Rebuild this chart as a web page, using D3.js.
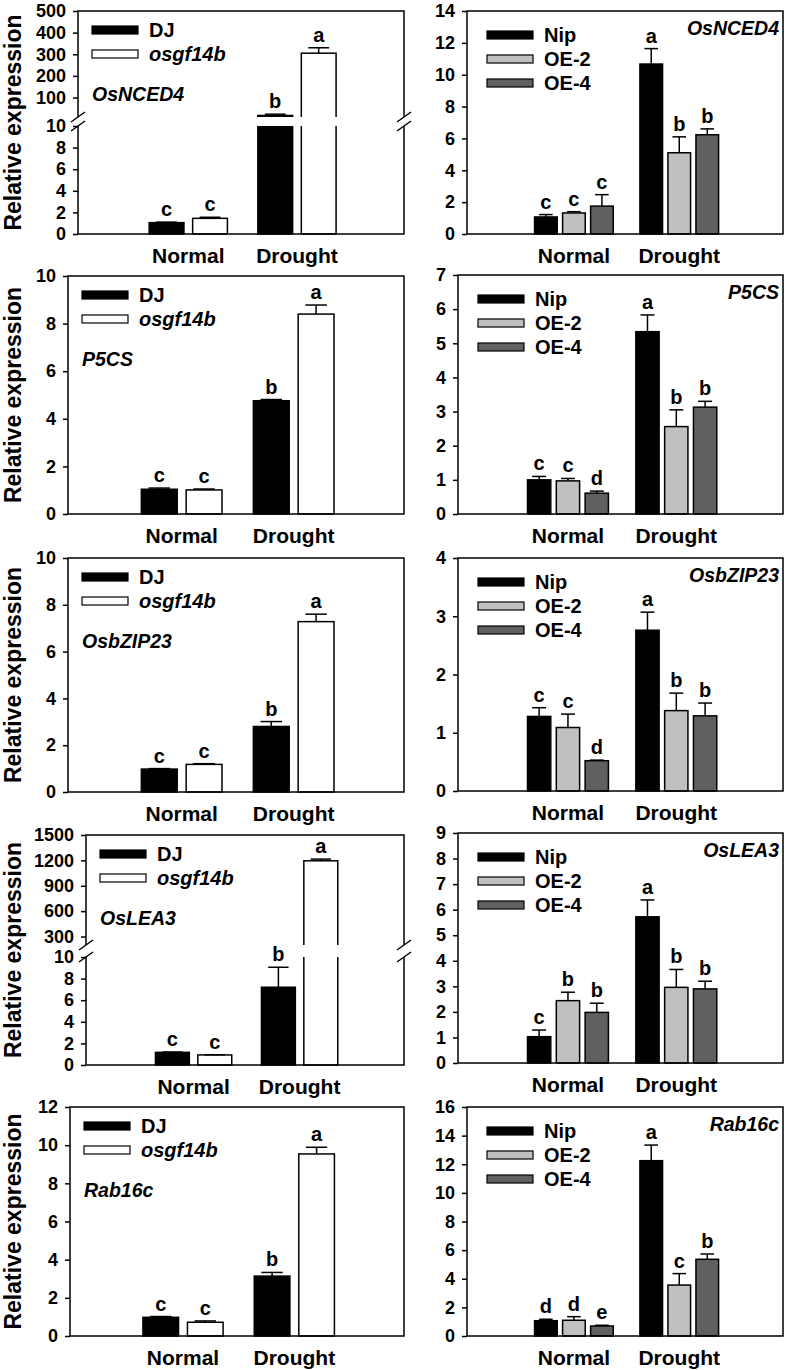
<!DOCTYPE html>
<html>
<head>
<meta charset="utf-8">
<script src="https://cdn.jsdelivr.net/npm/d3@7"></script>
<style>
  body { margin: 0; background: #fff; }
  svg text { font-family: "Liberation Sans", Arial, sans-serif; font-weight: bold; }
</style>
</head>
<body>
<svg id="fig" width="787" height="1370"></svg>
<script>
var conditions = ["Normal", "Drought"];
var genes = ["OsNCED4", "P5CS", "OsbZIP23", "OsLEA3", "Rab16c"];
var mutLines = ["DJ", "osgf14b"];
var oeLines = ["Nip", "OE-2", "OE-4"];

// left column, one row per gene, [Normal, Drought]
var djMean  = [[1.05, 17], [1.04, 4.76], [0.98, 2.8], [1.17, 7.2], [0.98, 3.14]];
var djSd    = [[0.05, 6], [0.05, 0.05], [0.02, 0.21], [0.03, 1.85], [0.04, 0.19]];
var djSig   = [["c", "b"], ["c", "b"], ["c", "b"], ["c", "b"], ["c", "b"]];
var osgMean = [[1.45, 305], [1.01, 8.4], [1.18, 7.28], [0.93, 1195], [0.72, 9.54]];
var osgSd   = [[0.1, 25], [0.04, 0.38], [0.03, 0.32], [0.02, 20], [0.07, 0.35]];
var osgSig  = [["c", "a"], ["c", "a"], ["c", "a"], ["c", "a"], ["c", "a"]];

// right column
var nipMean = [[1.07, 10.67], [1.0, 5.34], [1.28, 2.76], [1.03, 5.72], [1.07, 12.25]];
var nipSd   = [[0.15, 0.97], [0.1, 0.49], [0.15, 0.31], [0.26, 0.66], [0.1, 1.09]];
var nipSig  = [["c", "a"], ["c", "a"], ["c", "a"], ["c", "a"], ["d", "a"]];
var oe2Mean = [[1.32, 5.1], [0.97, 2.56], [1.09, 1.38], [2.44, 2.96], [1.1, 3.56]];
var oe2Sd   = [[0.08, 1.0], [0.07, 0.49], [0.23, 0.3], [0.33, 0.7], [0.25, 0.8]];
var oe2Sig  = [["c", "b"], ["c", "b"], ["c", "b"], ["b", "b"], ["d", "c"]];
var oe4Mean = [[1.75, 6.23], [0.61, 3.13], [0.52, 1.29], [1.98, 2.9], [0.7, 5.36]];
var oe4Sd   = [[0.72, 0.37], [0.06, 0.17], [0.01, 0.22], [0.36, 0.3], [0.05, 0.37]];
var oe4Sig  = [["c", "b"], ["d", "b"], ["d", "b"], ["b", "b"], ["e", "b"]];

// y axes (left ones OsNCED4 and OsLEA3 have a broken axis)
var leftLowMax    = [10, 10, 10, 10, 12];
var leftHigh      = [[10, 500], null, null, [200, 1500], null];
var leftLowTicks  = [[0, 2, 4, 6, 8, 10], [0, 2, 4, 6, 8, 10], [0, 2, 4, 6, 8, 10], [0, 2, 4, 6, 8, 10], [0, 2, 4, 6, 8, 10, 12]];
var leftHighTicks = [[100, 200, 300, 400, 500], [], [], [300, 600, 900, 1200, 1500], []];
var rightMax      = [14, 7, 4, 9, 16];
var rightTicks    = [[0, 2, 4, 6, 8, 10, 12, 14], [0, 1, 2, 3, 4, 5, 6, 7], [0, 1, 2, 3, 4],
                     [0, 1, 2, 3, 4, 5, 6, 7, 8, 9], [0, 2, 4, 6, 8, 10, 12, 14, 16]];

// panel frames
var leftX0 = [78, 68, 68, 86, 70], leftX1 = 404;
var leftTop = [11, 276, 558, 835, 1107], leftBottom = [234, 514, 792, 1065, 1336];
var leftGap = [[117, 126], null, null, [945, 957], null];
var rightX0 = [467, 458, 458, 458, 467], rightX1 = 783;
var rightTop = [11, 275, 558, 833, 1107], rightBottom = [234, 514, 791, 1063, 1336];

var svg = d3.select("#fig");

function drawPanel(p) {
    var g = svg.append("g");
    var x = d3.scaleLinear().domain([-0.015, 2.985]).range([p.x0, p.x1]);
    var low = d3.scaleLinear().domain([0, p.lowMax]).range([p.bottom, p.high ? p.gap[1] : p.top]);
    var high = p.high ? d3.scaleLinear().domain(p.high).range([p.gap[0], p.top]) : null;
    var y = function (v) { return (high && v > p.lowMax) ? high(v) : low(v); };

    var n = p.series.length;
    var unit = x(1) - x(0);
    var bw = p.barW * unit, step = p.step * unit;
    var letters = [];

    p.series.forEach(function (s, si) {
        conditions.forEach(function (c, ci) {
            var cx = x(ci + 1) + (si - (n - 1) / 2) * step;
            var v = s.mean[ci];
            var top = y(v), errTop = y(v + s.sd[ci]);
            g.append("rect")
                .attr("x", cx - bw / 2).attr("y", top)
                .attr("width", bw).attr("height", p.bottom - top)
                .attr("fill", s.fill).attr("stroke", "#000").attr("stroke-width", 1.5);
            g.append("line")
                .attr("x1", cx).attr("x2", cx).attr("y1", top).attr("y2", errTop)
                .attr("stroke", "#000").attr("stroke-width", 1.5);
            g.append("line")
                .attr("x1", cx - bw * 0.3).attr("x2", cx + bw * 0.3).attr("y1", errTop).attr("y2", errTop)
                .attr("stroke", "#000").attr("stroke-width", 1.5);
            letters.push({ x: cx, y: errTop - 6, t: s.sig[ci] });
        });
    });

    g.append("rect")
        .attr("x", p.x0).attr("y", p.top)
        .attr("width", p.x1 - p.x0).attr("height", p.bottom - p.top)
        .attr("fill", "none").attr("stroke", "#000").attr("stroke-width", 1.5);

    if (p.high) {
        g.append("rect")
            .attr("x", p.x0 - 2).attr("y", p.gap[0])
            .attr("width", p.x1 - p.x0 + 4).attr("height", p.gap[1] - p.gap[0])
            .attr("fill", "#fff");
        [p.x0, p.x1].forEach(function (bx) {
            p.gap.forEach(function (gy) {
                g.append("line")
                    .attr("x1", bx - 7).attr("y1", gy + 5).attr("x2", bx + 7).attr("y2", gy - 5)
                    .attr("stroke", "#000").attr("stroke-width", 1.5);
            });
        });
    }

    g.selectAll("text.sig").data(letters).join("text")
        .attr("class", "sig")
        .attr("x", function (d) { return d.x; }).attr("y", function (d) { return d.y; })
        .attr("text-anchor", "middle").attr("font-size", 20)
        .text(function (d) { return d.t; });

    var styleAxis = function (a) {
        a.select(".domain").remove();
        a.selectAll(".tick line").attr("stroke-width", 1.5);
        a.selectAll(".tick text").attr("font-size", 18).attr("fill", "#000")
            .style("font-family", "'Liberation Sans', Arial, sans-serif").style("font-weight", "bold");
    };
    g.append("g").attr("transform", "translate(" + p.x0 + ",0)")
        .call(d3.axisLeft(low).tickValues(p.lowTicks).tickSize(5).tickPadding(7).tickFormat(d3.format("d")))
        .call(styleAxis);
    if (high) {
        g.append("g").attr("transform", "translate(" + p.x0 + ",0)")
            .call(d3.axisLeft(high).tickValues(p.highTicks).tickSize(5).tickPadding(7).tickFormat(d3.format("d")))
            .call(styleAxis);
    }

    conditions.forEach(function (c, ci) {
        g.append("text")
            .attr("x", x(ci + 1)).attr("y", p.bottom + 29)
            .attr("text-anchor", "middle").attr("font-size", 21)
            .text(c);
    });

    // legend
    p.series.forEach(function (s, si) {
        var ly = p.top + p.legendY + si * p.legendStep;
        g.append("rect")
            .attr("x", p.x0 + p.legendX).attr("y", ly - 4)
            .attr("width", 46).attr("height", 8)
            .attr("fill", s.fill).attr("stroke", "#000").attr("stroke-width", 1.2);
        g.append("text")
            .attr("x", p.x0 + p.legendX + 57).attr("y", ly + 7)
            .attr("font-size", 20)
            .attr("font-style", s.italic ? "italic" : "normal")
            .text(s.name);
    });

    // gene name
    var gl = g.append("text").attr("font-size", 19.5).attr("font-style", "italic").text(p.gene);
    if (p.geneRight) {
        gl.attr("x", p.x1 - 4).attr("y", p.top + 24).attr("text-anchor", "end");
    } else {
        gl.attr("x", p.x0 + 14).attr("y", p.top + 90);
    }

    if (p.yTitle) {
        g.append("text")
            .attr("transform", "translate(13," + ((p.top + p.bottom) / 2) + ") rotate(-90)")
            .attr("text-anchor", "middle").attr("dominant-baseline", "central")
            .attr("font-size", 23)
            .text("Relative expression");
    }
}

genes.forEach(function (gene, i) {
    drawPanel({
        gene: gene, geneRight: false, yTitle: true,
        x0: leftX0[i], x1: leftX1, top: leftTop[i], bottom: leftBottom[i],
        lowMax: leftLowMax[i], high: leftHigh[i], gap: leftGap[i],
        lowTicks: leftLowTicks[i], highTicks: leftHighTicks[i],
        barW: 0.32, step: 0.40,
        legendX: 14, legendY: 19, legendStep: 24,
        series: [
            { name: mutLines[0], mean: djMean[i], sd: djSd[i], sig: djSig[i], fill: "#000", italic: false },
            { name: mutLines[1], mean: osgMean[i], sd: osgSd[i], sig: osgSig[i], fill: "#fff", italic: true }
        ]
    });
    drawPanel({
        gene: gene, geneRight: true, yTitle: false,
        x0: rightX0[i], x1: rightX1, top: rightTop[i], bottom: rightBottom[i],
        lowMax: rightMax[i], high: null, gap: null,
        lowTicks: rightTicks[i], highTicks: [],
        barW: 0.215, step: 0.266,
        legendX: 20, legendY: 24, legendStep: 24,
        series: [
            { name: oeLines[0], mean: nipMean[i], sd: nipSd[i], sig: nipSig[i], fill: "#000" },
            { name: oeLines[1], mean: oe2Mean[i], sd: oe2Sd[i], sig: oe2Sig[i], fill: "#c0c0c0" },
            { name: oeLines[2], mean: oe4Mean[i], sd: oe4Sd[i], sig: oe4Sig[i], fill: "#606060" }
        ]
    });
});
</script>
</body>
</html>
